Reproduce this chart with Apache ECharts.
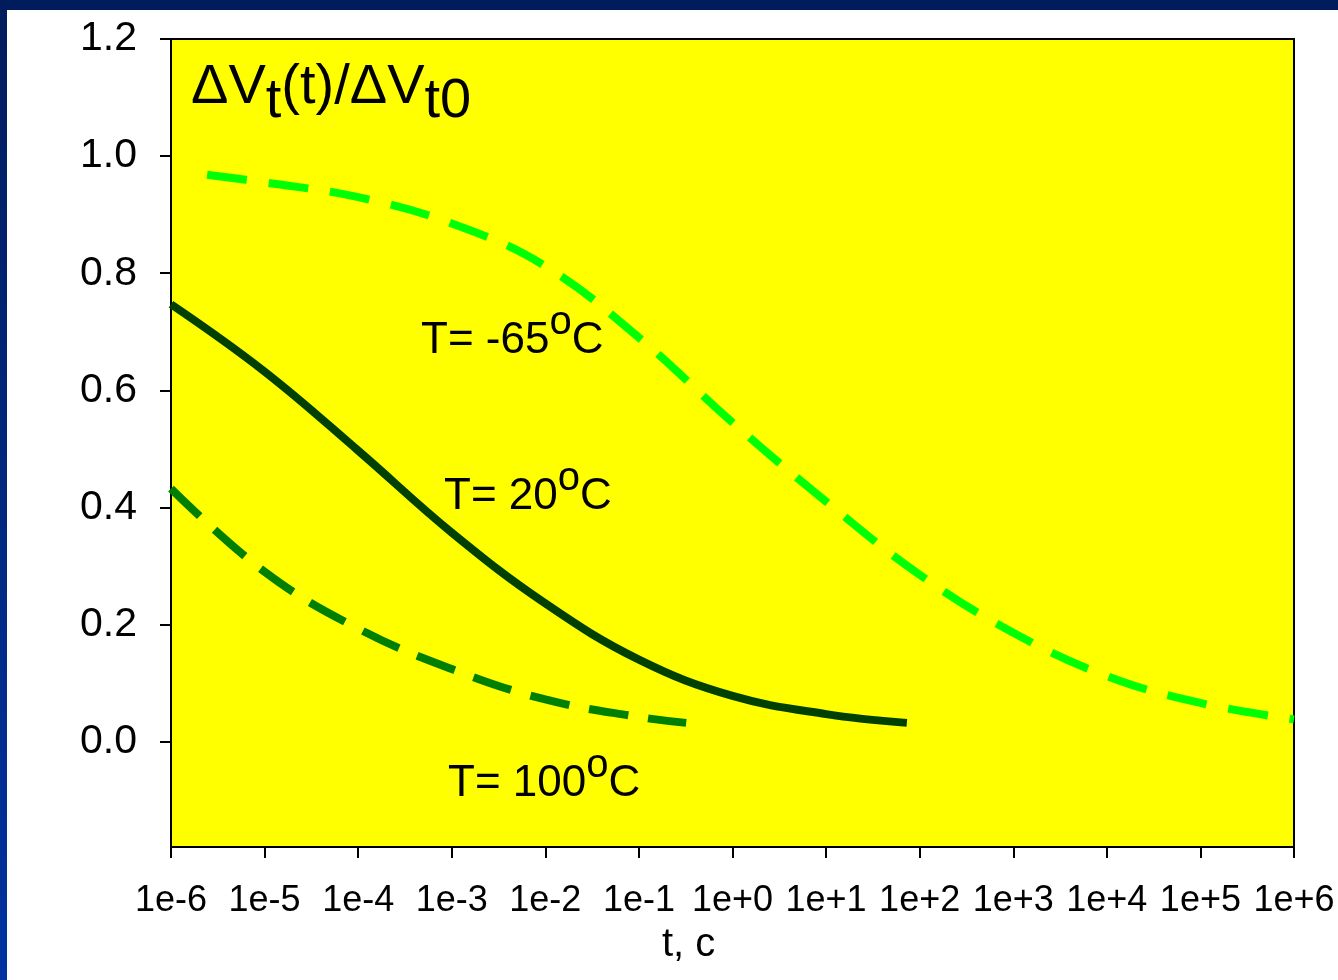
<!DOCTYPE html>
<html>
<head>
<meta charset="utf-8">
<script src="https://cdn.jsdelivr.net/npm/echarts@6/dist/echarts.min.js"></script>
<style>
html,body{margin:0;padding:0;background:#fff;}
#main{width:1338px;height:980px;}
</style>
</head>
<body>
<div id="main"></div>
<script>
// ---- data ----
const yTickValues = [0, 0.2, 0.4, 0.6, 0.8, 1.0, 1.2];
const xTickExponents = [-6, -5, -4, -3, -2, -1, 0, 1, 2, 3, 4, 5, 6];

const tCold = [2.43e-6, 1e-5, 1e-4, 1e-3, 1e-2, 1e-1, 1, 10, 100, 1e3, 1e4, 1e5, 1e6];
const vCold = [0.968, 0.955, 0.93, 0.885, 0.812, 0.69, 0.545, 0.41, 0.285, 0.186, 0.112, 0.066, 0.038];

const tRoom = [1e-6, 1e-5, 1e-4, 1e-3, 1e-2, 1e-1, 1, 10, 73];
const vRoom = [0.747, 0.632, 0.497, 0.357, 0.236, 0.14, 0.078, 0.047, 0.032];

const tHot = [1e-6, 1e-5, 1e-4, 1e-3, 1e-2, 1e-1, 0.32];
const vHot = [0.432, 0.29, 0.193, 0.124, 0.072, 0.042, 0.032];

const seriesNames = ['T= -65', 'T= 20', 'T= 100'];

function pairs(xs, ys) { return xs.map((x, i) => [x, ys[i]]); }

const FONT = '"Liberation Sans", Arial, Helvetica, sans-serif';

const chart = echarts.init(document.getElementById('main'), null, {renderer: 'canvas'});

function tempLabel(name, x, y) {
  return {
    type: 'text', z: 100, left: x, top: y,
    style: {
      text: '{m|' + name + '}{s|o}{m|C}',
      rich: {
        m: {fontSize: 44, fontFamily: FONT, fill: '#000', verticalAlign: 'bottom'},
        s: {fontSize: 40, fontFamily: FONT, fill: '#000', verticalAlign: 'bottom', padding: [0, 0, 20, 0]}
      }
    }
  };
}

const option = {
  backgroundColor: '#ffffff',
  animation: false,
  grid: {
    left: 171, top: 39, right: 44, bottom: 133,
    show: true, backgroundColor: '#ffff00', borderColor: '#000', borderWidth: 2
  },
  xAxis: {
    type: 'log', logBase: 10, min: 1e-6, max: 1e6, interval: 1,
    axisLine: {show: true, onZero: false, lineStyle: {color: '#000', width: 2}},
    axisTick: {show: true, inside: false, length: 11, lineStyle: {color: '#000', width: 2}},
    splitLine: {show: false},
    minorTick: {show: false},
    axisLabel: {
      color: '#000', fontSize: 36, fontFamily: FONT, margin: 36, showMinLabel: true, showMaxLabel: true,
      formatter: function (v) {
        const e = Math.round(Math.log10(v));
        return '1e' + (e < 0 ? '-' : '+') + Math.abs(e);
      }
    }
  },
  yAxis: {
    type: 'value', min: -0.18, max: 1.2,
    axisLine: {show: true, onZero: false, lineStyle: {color: '#000', width: 2}},
    axisTick: {show: true, inside: false, length: 11, lineStyle: {color: '#000', width: 2}, customValues: yTickValues},
    splitLine: {show: false},
    axisLabel: {
      color: '#000', fontSize: 41, fontFamily: FONT, margin: 34,
      customValues: yTickValues,
      formatter: function (v) { return v.toFixed(1); }
    }
  },
  series: [
    {
      name: seriesNames[0], type: 'line', data: pairs(tCold, vCold),
      smooth: 0.4, showSymbol: false, symbol: 'none',
      lineStyle: {color: '#00ff00', width: 8, type: [40, 22], cap: 'butt'}, z: 3
    },
    {
      name: seriesNames[1], type: 'line', data: pairs(tRoom, vRoom),
      smooth: 0.4, showSymbol: false, symbol: 'none',
      lineStyle: {color: '#004000', width: 8, type: 'solid', cap: 'butt'}, z: 3
    },
    {
      name: seriesNames[2], type: 'line', data: pairs(tHot, vHot),
      smooth: 0.4, showSymbol: false, symbol: 'none',
      lineStyle: {color: '#008000', width: 8, type: [40, 20], cap: 'butt'}, z: 3
    }
  ],
  graphic: [
    {type: 'rect', z: -10, shape: {x: 0, y: 0, width: 7, height: 980},
      style: {fill: new echarts.graphic.LinearGradient(0, 0, 0, 1, [{offset: 0, color: '#001c5c'}, {offset: 1, color: '#0033a0'}])}},
    {type: 'rect', z: -9, shape: {x: 0, y: 0, width: 1338, height: 10}, style: {fill: '#001c5c'}},
    {
      type: 'text', z: 100, left: 191, top: 60,
      style: {
        text: '{a|ΔV}{b|t}{a|(t)/ΔV}{b|t0}',
        rich: {
          a: {fontSize: 56, fontFamily: FONT, fill: '#000', verticalAlign: 'bottom', padding: [0, 0, 14, 0]},
          b: {fontSize: 56, fontFamily: FONT, fill: '#000', verticalAlign: 'bottom'}
        }
      }
    },
    tempLabel(seriesNames[0], 421, 303),
    tempLabel(seriesNames[1], 444, 459),
    tempLabel(seriesNames[2], 448, 746),
    {
      type: 'text', z: 100, left: 662, top: 925,
      style: {text: 't, c', fontSize: 40, fontFamily: FONT, fill: '#000'}
    }
  ]
};
chart.setOption(option);
</script>
</body>
</html>
